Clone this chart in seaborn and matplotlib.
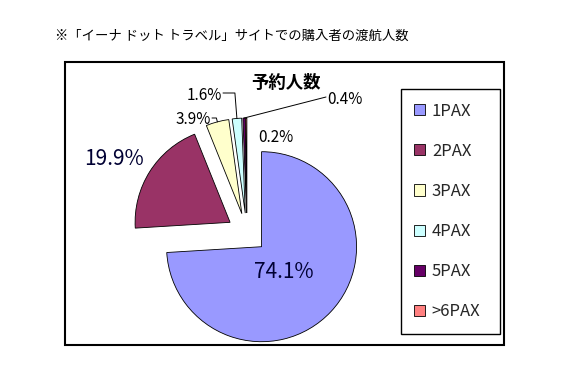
import numpy as np
import matplotlib
matplotlib.use("Agg")
import matplotlib.pyplot as plt
from matplotlib.patches import Rectangle
import seaborn as sns

# data
categories = ["1PAX", "2PAX", "3PAX", "4PAX", "5PAX", ">6PAX"]
shares = [74.1, 19.9, 3.9, 1.6, 0.4, 0.2]
pct_labels = ["74.1%", "19.9%", "3.9%", "1.6%", "0.4%", "0.2%"]
colors = ["#9999FF", "#993366", "#FFFFCC", "#CCFFFF", "#660066", "#FF8080"]

page_title = "※「イーナ ドット トラベル」サイトでの購入者の渡航人数"
chart_title = "予約人数"

sns.set_theme(style="white")
plt.rcParams["font.family"] = ["Noto Sans CJK JP", "DejaVu Sans"]

W, H = 567, 378
fig = plt.figure(figsize=(W / 100, H / 100), dpi=100)
ax = fig.add_axes([0, 0, 1, 1])

# whole figure is one axes in pixel units, y pointing down
wedges, _ = ax.pie(shares, colors=colors, center=(247, 233), radius=95,
                   explode=[20] * len(shares), startangle=-90, counterclock=True,
                   wedgeprops=dict(edgecolor="black", linewidth=0.6))
ax.set_xlim(0, W)
ax.set_ylim(H, 0)
ax.set_aspect("equal")
ax.axis("off")


def rim_point(w):
    a = np.deg2rad((w.theta1 + w.theta2) / 2)
    return w.center[0] + w.r * np.cos(a), w.center[1] + w.r * np.sin(a)


# outer chart frame
ax.add_patch(Rectangle((65, 62), 439, 283, fill=False, edgecolor="black",
                       linewidth=1.5, clip_on=False))

ax.text(55, 36, page_title, fontsize=9.6, ha="left", va="center", color="black")
ax.text(286, 83, chart_title, fontsize=12.5, fontweight="bold", ha="center",
        va="center", color="black")

# big labels inside the main slices
ax.text(284, 272, pct_labels[0], fontsize=15, ha="center", va="center", color="#000033")
ax.text(114, 159, pct_labels[1], fontsize=15, ha="center", va="center", color="#000033")

# small slices with leader lines
ax.text(211, 119, pct_labels[2], fontsize=11, ha="right", va="center", color="black")
px, py = rim_point(wedges[2])
ax.plot([212, px - 1, px], [118, 118, py], color="black", lw=0.7)

ax.text(222, 95, pct_labels[3], fontsize=11, ha="right", va="center", color="black")
px, py = rim_point(wedges[3])
ax.plot([223, px - 2, px], [93, 93, py], color="black", lw=0.7)

ax.text(327, 99, pct_labels[4], fontsize=11, ha="left", va="center", color="black")
px, py = rim_point(wedges[4])
ax.plot([326, px], [97, py], color="black", lw=0.7)

ax.text(258, 137, pct_labels[5], fontsize=11, ha="left", va="center", color="black")

leg = ax.legend(wedges, categories, loc="upper left",
                bbox_to_anchor=(401 / W, 1 - 93 / H, 99 / W, 0.01),
                bbox_transform=fig.transFigure, mode="expand",
                borderaxespad=0, fontsize=12, handlelength=0.65, handleheight=0.65,
                handletextpad=0.4, labelspacing=1.39, borderpad=0.8,
                frameon=True, fancybox=False, framealpha=1)
leg.get_frame().set_edgecolor("black")
leg.get_frame().set_linewidth(1.0)

fig.savefig("out.png", dpi=100)
